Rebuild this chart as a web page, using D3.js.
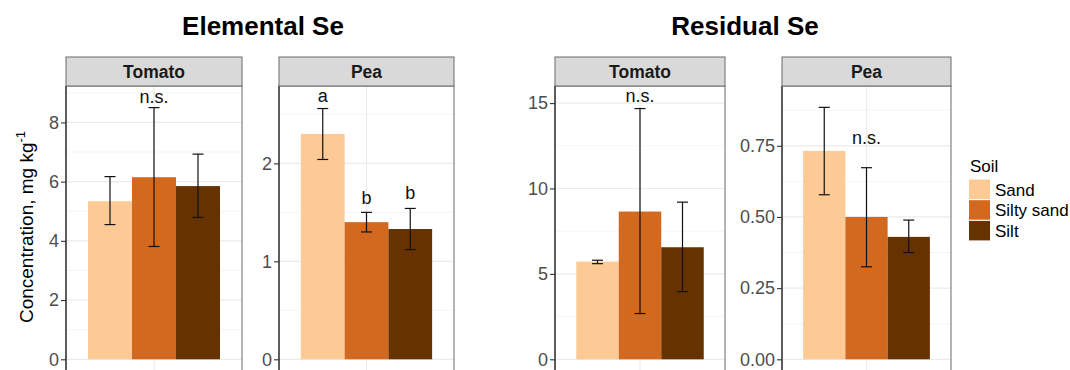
<!DOCTYPE html>
<html>
<head>
<meta charset="utf-8">
<script src="https://cdn.jsdelivr.net/npm/d3@7"></script>
<style>
  html, body { margin: 0; padding: 0; background: #fff; }
  svg { display: block; font-family: "Liberation Sans", Arial, sans-serif; }
</style>
</head>
<body>
<svg id="chart" width="1070" height="370"></svg>
<script>
// ---------------- data ----------------
const soils = ["Sand", "Silty sand", "Silt"];
const soilColors = ["#FDC995", "#D2691E", "#663300"];

const plotTitles = ["Elemental Se", "Residual Se"];
const crops = ["Tomato", "Pea"];

const elemTomatoMean = [5.34, 6.15, 5.85];
const elemTomatoLow  = [4.55, 3.81, 4.79];
const elemTomatoHigh = [6.17, 8.50, 6.93];

const elemPeaMean = [2.30, 1.40, 1.33];
const elemPeaLow  = [2.04, 1.30, 1.12];
const elemPeaHigh = [2.56, 1.50, 1.54];

const resTomatoMean = [5.72, 8.65, 6.56];
const resTomatoLow  = [5.60, 2.68, 3.96];
const resTomatoHigh = [5.80, 14.68, 9.20];

const resPeaMean = [0.732, 0.500, 0.430];
const resPeaLow  = [0.578, 0.325, 0.375];
const resPeaHigh = [0.885, 0.673, 0.489];

const elemTomatoTicks = [0, 2, 4, 6, 8];
const elemPeaTicks = [0, 1, 2];
const resTomatoTicks = [0, 5, 10, 15];
const resPeaTicks = [0, 0.25, 0.50, 0.75];

// significance labels: [soil index, text, y value]
const elemTomatoSig = [[1, "n.s.", 8.66]];
const elemPeaSig = [[0, "a", 2.63], [1, "b", 1.585], [2, "b", 1.633]];
const resTomatoSig = [[1, "n.s.", 15.06]];
const resPeaSig = [[1, "n.s.", 0.758]];

const yAxisTitle = "Concentration, mg kg";
const yAxisSup = "-1";
const legendTitle = "Soil";

// ---------------- layout ----------------
const panels = [
  { crop: crops[0], mean: elemTomatoMean, lo: elemTomatoLow, hi: elemTomatoHigh, ticks: elemTomatoTicks, sig: elemTomatoSig,
    left: 66, right: 242, yMax: 9.23, fmt: d3.format("d") },
  { crop: crops[1], mean: elemPeaMean, lo: elemPeaLow, hi: elemPeaHigh, ticks: elemPeaTicks, sig: elemPeaSig,
    left: 279, right: 454, yMax: 2.79, fmt: d3.format("d") },
  { crop: crops[0], mean: resTomatoMean, lo: resTomatoLow, hi: resTomatoHigh, ticks: resTomatoTicks, sig: resTomatoSig,
    left: 555, right: 725, yMax: 16.0, fmt: d3.format("d") },
  { crop: crops[1], mean: resPeaMean, lo: resPeaLow, hi: resPeaHigh, ticks: resPeaTicks, sig: resPeaSig,
    left: 782, right: 951, yMax: 0.96, fmt: d3.format(".2f") }
];

const stripTop = 57, panelTop = 86, yZero = 359.3, panelBottom = 380;

const svg = d3.select("#chart");

// titles
svg.append("text").attr("x", 263).attr("y", 35).attr("text-anchor", "middle")
  .attr("font-size", 26).attr("font-weight", "bold").attr("fill", "#000").text(plotTitles[0]);
svg.append("text").attr("x", 745).attr("y", 35).attr("text-anchor", "middle")
  .attr("font-size", 26).attr("font-weight", "bold").attr("fill", "#000").text(plotTitles[1]);

// y axis title
const yt = svg.append("text")
  .attr("transform", "translate(32.5,227) rotate(-90)")
  .attr("text-anchor", "middle").attr("font-size", 19).attr("fill", "#000");
yt.append("tspan").text(yAxisTitle);
yt.append("tspan").attr("font-size", 13).attr("dy", -8).text(yAxisSup);

panels.forEach(p => {
  const g = svg.append("g");
  const y = d3.scaleLinear().domain([0, p.yMax]).range([yZero, panelTop]);
  const xc = d3.scaleLinear().domain([0.4, 1.6]).range([p.left, p.right]);
  const xb = d3.scaleBand().domain(soils).range([xc(0.55), xc(1.45)]).padding(0);
  const w = p.right - p.left;

  // panel background
  g.append("rect").attr("x", p.left).attr("y", panelTop).attr("width", w)
    .attr("height", panelBottom - panelTop).attr("fill", "#fff");

  // minor grid
  const step = p.ticks[1] - p.ticks[0];
  const minors = [];
  for (let i = 0; i < p.ticks.length + 1; i++) {
    const v = p.ticks[0] + step * (i + 0.5);
    if (v < p.yMax) minors.push(v);
  }
  g.selectAll(".minor").data(minors).join("line")
    .attr("x1", p.left).attr("x2", p.right)
    .attr("y1", d => y(d)).attr("y2", d => y(d))
    .attr("stroke", "#F2F2F2").attr("stroke-width", 0.8);
  // major grid
  g.selectAll(".major").data(p.ticks).join("line")
    .attr("x1", p.left).attr("x2", p.right)
    .attr("y1", d => y(d)).attr("y2", d => y(d))
    .attr("stroke", "#EBEBEB").attr("stroke-width", 1.2);
  g.append("line").attr("x1", xc(1)).attr("x2", xc(1)).attr("y1", panelTop).attr("y2", panelBottom)
    .attr("stroke", "#EBEBEB").attr("stroke-width", 1.2);

  // bars
  g.selectAll(".bar").data(soils).join("rect")
    .attr("x", d => xb(d)).attr("width", xb.bandwidth())
    .attr("y", (d, i) => y(p.mean[i]))
    .attr("height", (d, i) => y(0) - y(p.mean[i]))
    .attr("fill", (d, i) => soilColors[i]);

  // error bars
  const cap = 5.5;
  soils.forEach((s, i) => {
    const cx = xb(s) + xb.bandwidth() / 2;
    g.append("line").attr("x1", cx).attr("x2", cx).attr("y1", y(p.lo[i])).attr("y2", y(p.hi[i]))
      .attr("stroke", "#111").attr("stroke-width", 1.2);
    [p.lo[i], p.hi[i]].forEach(v => {
      g.append("line").attr("x1", cx - cap).attr("x2", cx + cap).attr("y1", y(v)).attr("y2", y(v))
        .attr("stroke", "#111").attr("stroke-width", 1.2);
    });
  });

  // significance labels
  p.sig.forEach(([i, txt, v]) => {
    g.append("text").attr("x", xb(soils[i]) + xb.bandwidth() / 2).attr("y", y(v))
      .attr("text-anchor", "middle").attr("font-size", 18).attr("fill", "#111").text(txt);
  });

  // panel border
  g.append("rect").attr("x", p.left).attr("y", panelTop).attr("width", w)
    .attr("height", panelBottom - panelTop).attr("fill", "none")
    .attr("stroke", "#6b6b6b").attr("stroke-width", 1);
  g.append("line").attr("x1", p.left).attr("x2", p.left).attr("y1", panelTop).attr("y2", panelBottom)
    .attr("stroke", "#222").attr("stroke-width", 1.2);

  // y axis
  const ax = g.append("g").attr("transform", `translate(${p.left},0)`)
    .call(d3.axisLeft(y).tickValues(p.ticks).tickFormat(p.fmt).tickSize(5).tickPadding(2));
  ax.select(".domain").remove();
  ax.selectAll(".tick line").attr("stroke", "#333").attr("stroke-width", 1.1);
  ax.selectAll(".tick text").attr("font-size", 18).attr("fill", "#4D4D4D")
    .attr("font-family", "\"Liberation Sans\", Arial, sans-serif");

  // strip
  g.append("rect").attr("x", p.left).attr("y", stripTop).attr("width", w)
    .attr("height", panelTop - stripTop).attr("fill", "#D9D9D9")
    .attr("stroke", "#6b6b6b").attr("stroke-width", 1);
  g.append("text").attr("x", (p.left + p.right) / 2).attr("y", 78)
    .attr("text-anchor", "middle").attr("font-size", 17.5).attr("font-weight", "bold")
    .attr("fill", "#1A1A1A").text(p.crop);
});

// legend
const lg = svg.append("g");
lg.append("text").attr("x", 970).attr("y", 172).attr("font-size", 17).attr("fill", "#000").text(legendTitle);
soils.forEach((s, i) => {
  const ky = 179.5 + i * 20.7;
  lg.append("rect").attr("x", 969).attr("y", ky).attr("width", 21).attr("height", 19.5).attr("fill", soilColors[i]);
  lg.append("text").attr("x", 995).attr("y", ky + 16).attr("font-size", 17).attr("fill", "#000").text(s);
});
</script>
</body>
</html>
